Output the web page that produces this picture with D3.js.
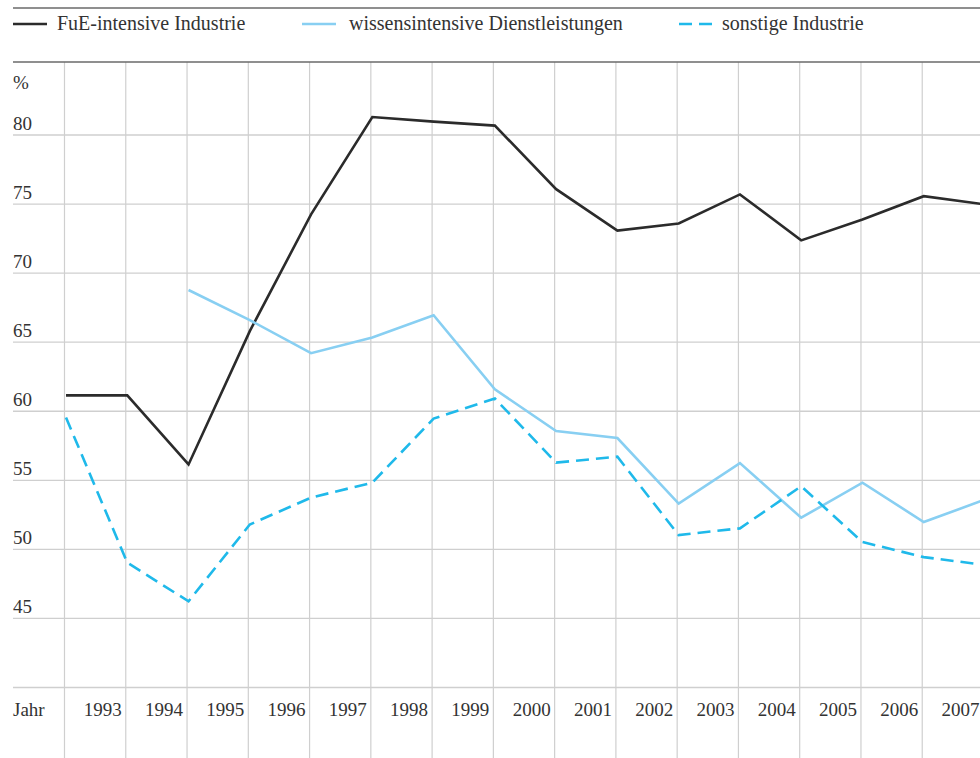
<!DOCTYPE html>
<html>
<head>
<meta charset="utf-8">
<script src="https://cdn.jsdelivr.net/npm/d3@7"></script>
<style>
  body { margin: 0; background: #fff; }
  svg text { font-family: "Liberation Serif", "DejaVu Serif", serif; fill: #333; }
</style>
</head>
<body>
<svg id="chart"></svg>
<script>
// years (first column has no label, axis title "Jahr" sits there)
var years = [1992, 1993, 1994, 1995, 1996, 1997, 1998, 1999, 2000, 2001, 2002, 2003, 2004, 2005, 2006, 2007];
var yearLabels = ["1993", "1994", "1995", "1996", "1997", "1998", "1999", "2000", "2001", "2002", "2003", "2004", "2005", "2006", "2007"];
var fueIndustrie = [61.15, 61.15, 56.15, 65.8, 74.25, 81.3, 80.97, 80.68, 76.08, 73.08, 73.59, 75.7, 72.37, 73.88, 75.57, 74.97];
var wissensDienst = [null, null, 68.78, 66.6, 64.2, 65.34, 66.95, 61.59, 58.57, 58.06, 53.31, 56.25, 52.29, 54.83, 51.98, 53.6];
var sonstigeIndustrie = [59.55, 49.04, 46.24, 51.8, 53.75, 54.83, 59.47, 60.92, 56.28, 56.71, 51.04, 51.52, 54.57, 50.53, 49.44, 48.87];
var yTicks = [80, 75, 70, 65, 60, 55, 50, 45];

var dimensions = {
  width: 980,
  height: 758,
  left: 13
}

var svg = d3.select("#chart")
  .attr("width", dimensions.width)
  .attr("height", dimensions.height)

var x = d3.scaleLinear()
  .domain([1992, 2007])
  .range([64.5, 983.5])

var y = d3.scaleLinear()
  .domain([40, 80])
  .range([687.5, 135])

var grid = "#cfcfcf"

// vertical grid lines
svg.append("g").selectAll("line")
  .data(years)
  .join("line")
    .attr("x1", d => x(d))
    .attr("x2", d => x(d))
    .attr("y1", 62)
    .attr("y2", dimensions.height)
    .attr("stroke", grid)
    .attr("stroke-width", 1.2)

// horizontal grid lines (incl. the unlabeled bottom line at 40)
svg.append("g").selectAll("line")
  .data(yTicks.concat([40]))
  .join("line")
    .attr("x1", dimensions.left)
    .attr("x2", dimensions.width)
    .attr("y1", d => y(d))
    .attr("y2", d => y(d))
    .attr("stroke", grid)
    .attr("stroke-width", 1.3)

// top rules
svg.append("line")
  .attr("x1", dimensions.left).attr("x2", dimensions.width)
  .attr("y1", 8).attr("y2", 8)
  .attr("stroke", "#6a6a6a").attr("stroke-width", 1.5)
svg.append("line")
  .attr("x1", dimensions.left).attr("x2", dimensions.width)
  .attr("y1", 62).attr("y2", 62)
  .attr("stroke", "#6a6a6a").attr("stroke-width", 1.5)

// y labels
svg.append("g").selectAll("text")
  .data(yTicks)
  .join("text")
    .attr("x", dimensions.left)
    .attr("y", d => y(d) - 5)
    .style("font-size", "19px")
    .text(d => d)

svg.append("text")
  .attr("x", dimensions.left)
  .attr("y", 89)
  .style("font-size", "19px")
  .text("%")

// x labels, right-aligned just left of their grid line
svg.append("g").selectAll("text")
  .data(yearLabels)
  .join("text")
    .attr("x", d => x(+d) - 4)
    .attr("y", 716)
    .attr("text-anchor", "end")
    .style("font-size", "19px")
    .text(d => d)

svg.append("text")
  .attr("x", dimensions.left)
  .attr("y", 716)
  .style("font-size", "19px")
  .text("Jahr")

var series = [
  { name: "FuE-intensive Industrie", values: fueIndustrie, color: "#2b2b2b", dash: null, lx: 13, tx: 57 },
  { name: "wissensintensive Dienstleistungen", values: wissensDienst, color: "#88cff2", dash: null, lx: 302, tx: 349 },
  { name: "sonstige Industrie", values: sonstigeIndustrie, color: "#1fb9ea", dash: "13,7", lx: 679, tx: 722 }
]

var line = d3.line()
  .defined(d => d.v != null)
  .x(d => x(d.year))
  .y(d => y(d.v))

var lines = svg.append("g").attr("transform", "translate(1.5,0)")

series.forEach(function(s) {
  var pts = years.map((yr, i) => ({ year: yr, v: s.values[i] }))
  lines.append("path")
    .datum(pts)
    .attr("d", line)
    .attr("fill", "none")
    .attr("stroke", s.color)
    .attr("stroke-width", 2.6)
    .attr("stroke-dasharray", s.dash)

  // legend
  svg.append("line")
    .attr("x1", s.lx).attr("x2", s.lx + 34)
    .attr("y1", 24).attr("y2", 24)
    .attr("stroke", s.color)
    .attr("stroke-width", 2.6)
    .attr("stroke-dasharray", s.dash)
  svg.append("text")
    .attr("x", s.tx)
    .attr("y", 30)
    .style("font-size", "20px")
    .text(s.name)
})
</script>
</body>
</html>
